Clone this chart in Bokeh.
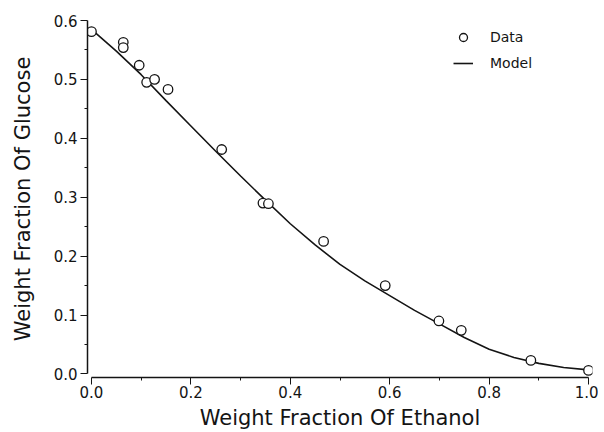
from bokeh.plotting import figure
from bokeh.models import Range1d, FixedTicker, PrintfTickFormatter, Legend, LegendItem
from bokeh.embed import file_html
from bokeh.resources import INLINE

# Data points (weight fraction ethanol vs glucose)
data_x = [0.0, 0.064, 0.064, 0.096, 0.111, 0.127, 0.154, 0.262, 0.345, 0.356,
          0.467, 0.591, 0.699, 0.744, 0.884, 1.0]
data_y = [0.581, 0.563, 0.554, 0.524, 0.495, 0.500, 0.483, 0.381, 0.290, 0.289,
          0.225, 0.150, 0.090, 0.074, 0.023, 0.006]

# Model curve
model_x = [0.00, 0.05, 0.10, 0.15, 0.20, 0.25, 0.30, 0.35, 0.40, 0.45, 0.50,
           0.55, 0.60, 0.65, 0.70, 0.75, 0.80, 0.85, 0.90, 0.95, 1.00]
model_y = [0.585, 0.548, 0.508, 0.464, 0.421, 0.378, 0.336, 0.295, 0.255, 0.219,
           0.186, 0.158, 0.133, 0.108, 0.085, 0.062, 0.042, 0.028, 0.018, 0.011, 0.007]

x_ticks = [0.0, 0.2, 0.4, 0.6, 0.8, 1.0]
x_minor = [0.1, 0.3, 0.5, 0.7, 0.9]
y_ticks = [0.0, 0.1, 0.2, 0.3, 0.4, 0.5, 0.6]
y_minor = [0.05, 0.15, 0.25, 0.35, 0.45, 0.55]

INK = "#141414"
FONT = "DejaVu Sans"

p = figure(width=598, height=432, output_backend="svg", toolbar_location=None,
           x_range=Range1d(-0.008, 1.008), y_range=Range1d(-0.006, 0.6),
           min_border_left=87, min_border_right=6, min_border_top=20, min_border_bottom=54)
p.outline_line_color = None
p.grid.visible = False
p.background_fill_color = "white"

r_line = p.line(model_x, model_y, line_color=INK, line_width=1.6)
r_pts = p.scatter(data_x, data_y, marker="circle", size=9.5, fill_color="white",
                  line_color=INK, line_width=1.3)

for ax, ticks, minor in ((p.xaxis[0], x_ticks, x_minor), (p.yaxis[0], y_ticks, y_minor)):
    ax.ticker = FixedTicker(ticks=ticks, minor_ticks=minor)
    ax.formatter = PrintfTickFormatter(format="%.1f")
    ax.bounds = (ticks[0], ticks[-1])
    ax.axis_line_color = INK
    ax.axis_line_width = 1.5
    ax.major_tick_line_color = INK
    ax.minor_tick_line_color = INK
    ax.major_tick_out = 7
    ax.major_tick_in = 0
    ax.minor_tick_out = 3
    ax.minor_tick_in = 0
    ax.major_label_text_font = FONT
    ax.major_label_text_font_size = "15px"
    ax.major_label_text_color = INK
    ax.axis_label_text_font = FONT
    ax.axis_label_text_font_size = "21px"
    ax.axis_label_text_font_style = "normal"
    ax.axis_label_text_color = INK

p.xaxis.axis_label = "Weight Fraction Of Ethanol"
p.yaxis.axis_label = "Weight Fraction Of Glucose"
p.xaxis.major_label_standoff = 1
p.yaxis.major_label_standoff = 3
p.xaxis.axis_label_standoff = 5
p.yaxis.axis_label_standoff = 16

legend = Legend(items=[LegendItem(label="Data", renderers=[r_pts]),
                       LegendItem(label="Model", renderers=[r_line])],
                location=(366, 304), padding=0, margin=0, spacing=6,
                glyph_width=20, glyph_height=20, label_standoff=17,
                label_text_font=FONT, label_text_font_size="14px",
                label_text_color=INK, border_line_color=None,
                background_fill_alpha=0)
p.add_layout(legend)

open("out.html", "w").write(file_html(p, INLINE))
